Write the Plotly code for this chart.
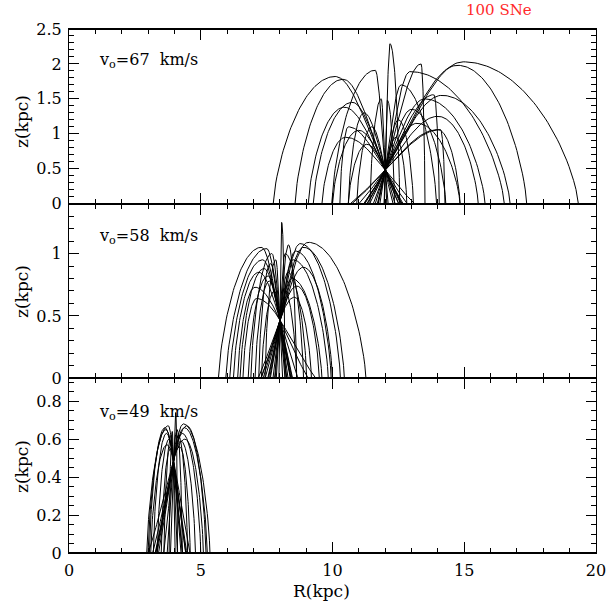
import numpy as np
import plotly.graph_objects as go

# ---------------- data ----------------
# launch points (R, z) for each panel
launch_top = (12.0, 0.48)
launch_mid = (8.0, 0.47)
launch_bot = (3.96, 0.49)

# each orbit: apex R, apex z, far-side foot R (side away from launch point)
top_apex_R = [12.18, 13.36, 14.96, 14.75, 12.94, 13.85, 14.15, 13.50, 14.00, 14.00,
              14.10, 12.60, 13.00, 12.50, 12.40, 12.08, 13.20,
              10.10, 10.40, 11.62, 10.45, 10.75, 10.60, 10.50, 11.20, 11.00,
              11.50, 11.30, 11.85]
top_apex_z = [2.29, 2.00, 2.03, 1.98, 1.89, 1.56, 1.55, 1.50, 1.25, 1.06,
              1.06, 1.70, 1.35, 1.20, 0.95, 1.48, 1.15,
              1.82, 1.78, 1.91, 1.38, 1.45, 1.10, 0.95, 1.30, 1.05,
              1.10, 0.85, 1.50]
top_foot_R = [12.55, 13.51, 19.33, 17.37, 16.52, 14.05, 16.74, 15.79, 15.53, 14.84,
              14.27, 13.95, 14.30, 13.07, 12.82, 12.35, 14.84,
              7.75, 8.58, 9.97, 9.08, 9.27, 10.28, 9.60, 10.60, 10.00,
              10.92, 10.60, 11.42]

mid_apex_R = [7.30, 7.50, 7.20, 7.40, 7.06, 7.12, 7.70, 7.60, 7.85, 7.80,
              7.35, 7.55, 7.65,
              8.07, 9.08, 8.77, 8.33, 8.89, 8.64, 8.50, 8.30, 8.20, 8.55, 8.15,
              8.60, 8.45, 8.90]
mid_apex_z = [1.05, 1.04, 0.85, 0.88, 0.73, 0.64, 1.00, 0.78, 0.95, 0.70,
              0.95, 0.82, 0.92,
              1.25, 1.09, 1.08, 1.07, 0.89, 0.74, 0.95, 0.85, 1.00, 0.65, 0.72,
              1.02, 0.80, 1.05]
mid_foot_R = [5.67, 5.95, 6.24, 6.49, 6.40, 6.60, 6.90, 7.06, 7.44, 7.30,
              6.10, 6.80, 7.20,
              8.20, 11.27, 10.30, 8.64, 10.00, 9.50, 9.84, 9.02, 8.90, 9.20, 8.64,
              9.95, 9.60, 10.45]

bot_apex_R = [4.05, 3.77, 3.64, 3.70, 3.80, 3.72, 3.85, 3.88, 3.68,
              4.34, 4.47, 4.30, 4.25, 4.20, 4.15, 4.40, 3.92, 4.38, 4.10]
bot_apex_z = [0.74, 0.67, 0.66, 0.63, 0.60, 0.57, 0.55, 0.62, 0.65,
              0.68, 0.67, 0.63, 0.59, 0.56, 0.62, 0.60, 0.64, 0.66, 0.65]
bot_foot_R = [4.12, 2.95, 3.05, 3.20, 3.35, 3.10, 3.50, 3.60, 3.00,
              5.35, 5.20, 5.00, 4.80, 4.60, 4.50, 5.10, 3.80, 5.25, 4.30]

panel_labels = ["v<sub>o</sub>=67\u00a0 km/s", "v<sub>o</sub>=58\u00a0 km/s",
                "v<sub>o</sub>=49\u00a0 km/s"]
x_ticks = [0, 5, 10, 15, 20]

NEAR_K = 1.0   # broadening of the arc side that passes through the launch point
FAR_Q = 0.72   # steepness of the far side near its foot


def orbit_paths(launch, apex_R, apex_z, foot_R, n=50):
    R0, z0 = launch
    xs, ys = [], []
    for Ra, H, Rf in zip(apex_R, apex_z, foot_R):
        s = min(z0 / H, 0.999)
        u = np.sqrt((1 - s) / (1 + NEAR_K * s))
        wn = max(abs(R0 - Ra) / max(u, 1e-3), 0.03)
        wf = max(abs(Rf - Ra), 0.03)
        t_near = np.linspace(0, 1, n)
        z_near = H * (1 - t_near ** 2) / (1 + NEAR_K * t_near ** 2)
        z_far = H * np.clip(1 - t_near ** 2, 0, None) ** FAR_Q
        if Rf >= Ra:
            lx, lz = Ra - t_near * wn, z_near
            rx, rz = Ra + t_near * wf, z_far
        else:
            lx, lz = Ra - t_near * wf, z_far
            rx, rz = Ra + t_near * wn, z_near
        xs += list(lx[::-1]) + list(rx[1:]) + [None]
        ys += list(lz[::-1]) + list(rz[1:]) + [None]
    return xs, ys


fig = go.Figure()
panels = [
    (launch_top, top_apex_R, top_apex_z, top_foot_R, "x3", "y3"),
    (launch_mid, mid_apex_R, mid_apex_z, mid_foot_R, "x2", "y2"),
    (launch_bot, bot_apex_R, bot_apex_z, bot_foot_R, "x", "y"),
]
for launch, aR, az, fR, xa, ya in panels:
    xs, ys = orbit_paths(launch, aR, az, fR)
    fig.add_trace(go.Scatter(x=xs, y=ys, mode="lines", xaxis=xa, yaxis=ya,
                             line=dict(color="black", width=1), hoverinfo="skip",
                             showlegend=False, connectgaps=False, cliponaxis=True))

FONT = "DejaVu Serif"
TICK_FONT = dict(family=FONT, size=16, color="black")
xstyle = dict(range=[0, 20], showline=True, linecolor="black", linewidth=1,
              mirror="ticks", ticks="inside", ticklen=11, tickwidth=1, tickcolor="black",
              tickvals=x_ticks, showgrid=False, zeroline=False, automargin=False,
              minor=dict(dtick=1, tick0=0, ticks="inside", ticklen=5, tickwidth=1,
                         tickcolor="black", showgrid=False),
              tickfont=TICK_FONT)
ystyle = dict(showline=True, linecolor="black", linewidth=1, mirror="ticks",
              ticks="inside", ticklen=10, tickwidth=1, tickcolor="black",
              showgrid=False, zeroline=False, ticklabelstandoff=3, automargin=False,
              tickfont=TICK_FONT)

fig.update_layout(
    width=607, height=608,
    margin=dict(l=69, r=11, t=29, b=55, autoexpand=False),
    paper_bgcolor="white", plot_bgcolor="white",
    xaxis=dict(**xstyle, anchor="y", showticklabels=True, ticklabelstandoff=3),
    xaxis2=dict(**xstyle, anchor="y2", matches="x", showticklabels=False),
    xaxis3=dict(**xstyle, anchor="y3", matches="x", showticklabels=False),
    yaxis=dict(**ystyle, domain=[0, 1 / 3], range=[0, 0.92], dtick=0.2, tick0=0,
               minor=dict(dtick=0.05, ticks="inside", ticklen=5, tickwidth=1, tickcolor="black")),
    yaxis2=dict(**ystyle, domain=[1 / 3, 2 / 3], range=[0, 1.4], dtick=0.5, tick0=0,
                minor=dict(dtick=0.1, ticks="inside", ticklen=5, tickwidth=1, tickcolor="black")),
    yaxis3=dict(**ystyle, domain=[2 / 3, 1], range=[0, 2.5], dtick=0.5, tick0=0,
                minor=dict(dtick=0.1, ticks="inside", ticklen=5, tickwidth=1, tickcolor="black")),
)

# heavier outer frame lines (bottom and top) like the reference
for yy in (0, 1):
    fig.add_shape(type="line", xref="paper", yref="paper", x0=0, x1=1, y0=yy, y1=yy,
                  line=dict(color="black", width=2))

ann_font = dict(family=FONT, size=16, color="black")
title_font = dict(family=FONT, size=17, color="black")
label_y = [0.939, 0.604, 0.269]
for txt, yy in zip(panel_labels, label_y):
    fig.add_annotation(text=txt, xref="paper", yref="paper", x=0.053, y=yy,
                       xanchor="left", yanchor="middle", showarrow=False, font=ann_font)

# axis titles
for yy in [(553 - 122) / 524, (553 - 292) / 524, (553 - 467) / 524]:
    fig.add_annotation(text="z(kpc)", xref="paper", yref="paper", x=(22 - 69) / 527, y=yy,
                       xanchor="center", yanchor="middle", textangle=-90, showarrow=False,
                       font=title_font)
fig.add_annotation(text="R(kpc)", xref="paper", yref="paper", x=(321 - 69) / 527,
                   y=(553 - 591) / 524, xanchor="center", yanchor="middle",
                   showarrow=False, font=title_font)
fig.add_annotation(text="100 SNe", xref="paper", yref="paper", x=(499 - 69) / 527,
                   y=(553 - 10) / 524, xanchor="center", yanchor="middle",
                   showarrow=False, font=dict(family=FONT, size=15, color="#ff2a2a"))

fig.write_html("out.html", config={"displayModeBar": False},
               post_script="document.body.style.margin='0';")
